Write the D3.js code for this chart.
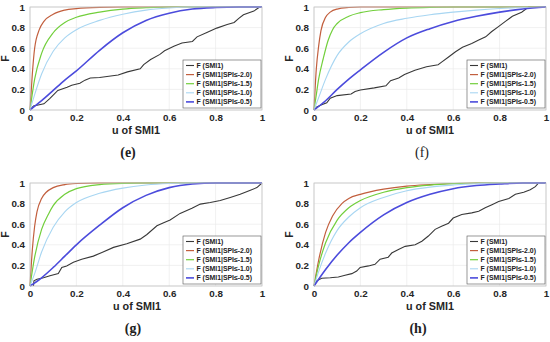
<!DOCTYPE html>
<html>
<head>
<meta charset="utf-8">
<script src="https://cdn.jsdelivr.net/npm/d3@7/dist/d3.min.js"></script>
<style>
  body { margin: 0; background: #fff; }
  svg text { font-family: "Liberation Sans", Arial, sans-serif; }
</style>
</head>
<body>
<svg id="chart" width="550" height="342"></svg>
<script>
// values, [u, F]
var ticks = [0, 0.2, 0.4, 0.6, 0.8, 1];
var tickLabels = ["0", "0.2", "0.4", "0.6", "0.8", "1"];
var legendLabels = ["F (SMI1)", "F (SMI1|SPI\u2264-2.0)", "F (SMI1|SPI\u2264-1.5)", "F (SMI1|SPI\u2264-1.0)", "F (SMI1|SPI\u2264-0.5)"];
var panelNames = ["(e)", "(f)", "(g)", "(h)"];

var eEmp = [[0,0],[0.015,0.04],[0.06,0.06],[0.085,0.11],[0.12,0.19],[0.16,0.22],[0.18,0.24],[0.215,0.26],[0.237,0.29],[0.26,0.31],[0.3,0.315],[0.38,0.34],[0.42,0.37],[0.475,0.4],[0.49,0.44],[0.52,0.49],[0.56,0.54],[0.58,0.575],[0.62,0.62],[0.655,0.65],[0.7,0.665],[0.72,0.71],[0.76,0.75],[0.805,0.795],[0.85,0.83],[0.88,0.85],[0.9,0.89],[0.92,0.925],[0.965,0.96],[0.99,1],[1,1]];
var eS20 = [[0,0],[0.01,0.35],[0.02,0.6],[0.04,0.78],[0.06,0.86],[0.1,0.93],[0.15,0.97],[0.2,0.985],[0.3,0.997],[0.4,1],[1,1]];
var eS15 = [[0,0],[0.02,0.3],[0.05,0.55],[0.1,0.75],[0.15,0.85],[0.2,0.9],[0.3,0.95],[0.4,0.98],[0.5,0.993],[0.6,1],[1,1]];
var eS10 = [[0,0],[0.02,0.15],[0.05,0.35],[0.1,0.57],[0.15,0.7],[0.2,0.78],[0.3,0.87],[0.4,0.93],[0.5,0.97],[0.6,0.99],[0.7,1],[1,1]];
var eS05 = [[0,0],[0.05,0.09],[0.1,0.19],[0.15,0.29],[0.2,0.38],[0.3,0.58],[0.4,0.75],[0.5,0.87],[0.6,0.94],[0.7,0.98],[0.8,0.995],[0.9,1],[1,1]];

var fEmp = [[0,0],[0.012,0.03],[0.033,0.05],[0.055,0.07],[0.07,0.115],[0.1,0.14],[0.16,0.155],[0.177,0.18],[0.2,0.195],[0.26,0.215],[0.31,0.235],[0.33,0.285],[0.365,0.31],[0.39,0.345],[0.435,0.385],[0.485,0.42],[0.535,0.44],[0.55,0.465],[0.58,0.515],[0.61,0.565],[0.64,0.61],[0.68,0.645],[0.71,0.68],[0.74,0.71],[0.765,0.76],[0.795,0.81],[0.825,0.86],[0.855,0.91],[0.895,0.95],[0.925,1],[1,1]];
var fS20 = [[0,0],[0.01,0.4],[0.02,0.62],[0.03,0.77],[0.05,0.9],[0.07,0.95],[0.1,0.98],[0.15,0.995],[0.2,1],[1,1]];
var fS15 = [[0,0],[0.01,0.15],[0.02,0.3],[0.04,0.5],[0.06,0.67],[0.08,0.78],[0.1,0.84],[0.15,0.91],[0.2,0.945],[0.3,0.975],[0.4,0.99],[0.5,0.997],[0.6,1],[1,1]];
var fS10 = [[0,0],[0.02,0.12],[0.05,0.3],[0.1,0.53],[0.15,0.66],[0.2,0.74],[0.3,0.84],[0.4,0.89],[0.5,0.925],[0.6,0.95],[0.7,0.97],[0.8,0.985],[0.9,0.995],[1,1]];
var fS05 = [[0,0],[0.05,0.09],[0.1,0.2],[0.15,0.3],[0.2,0.39],[0.3,0.56],[0.4,0.7],[0.5,0.79],[0.6,0.86],[0.7,0.91],[0.8,0.95],[0.9,0.98],[1,1]];

var gEmp = [[0.015,0],[0.017,0.05],[0.03,0.065],[0.058,0.08],[0.086,0.1],[0.122,0.12],[0.137,0.18],[0.158,0.195],[0.187,0.23],[0.223,0.26],[0.273,0.29],[0.31,0.325],[0.36,0.375],[0.417,0.41],[0.475,0.455],[0.504,0.5],[0.547,0.585],[0.576,0.615],[0.604,0.64],[0.647,0.705],[0.698,0.755],[0.734,0.795],[0.777,0.81],[0.82,0.83],[0.863,0.86],[0.906,0.89],[0.95,0.93],[0.978,0.955],[1,1]];
var gS20 = [[0,0],[0.01,0.35],[0.02,0.58],[0.03,0.72],[0.05,0.85],[0.07,0.91],[0.1,0.955],[0.15,0.985],[0.2,0.995],[0.3,1],[1,1]];
var gS15 = [[0,0],[0.02,0.28],[0.05,0.55],[0.08,0.7],[0.1,0.78],[0.15,0.89],[0.2,0.945],[0.3,0.985],[0.4,0.997],[0.5,1],[1,1]];
var gS10 = [[0,0],[0.02,0.12],[0.05,0.33],[0.1,0.57],[0.15,0.72],[0.2,0.81],[0.3,0.9],[0.4,0.95],[0.5,0.98],[0.6,0.995],[0.7,1],[1,1]];
var gS05 = [[0,0],[0.05,0.08],[0.1,0.18],[0.15,0.29],[0.2,0.4],[0.3,0.59],[0.4,0.76],[0.5,0.88],[0.6,0.955],[0.7,0.99],[0.8,1],[1,1]];

var hEmp = [[0,0],[0.012,0.05],[0.033,0.075],[0.07,0.08],[0.105,0.087],[0.134,0.105],[0.163,0.12],[0.184,0.145],[0.199,0.18],[0.235,0.195],[0.263,0.21],[0.285,0.26],[0.32,0.28],[0.335,0.32],[0.364,0.355],[0.393,0.385],[0.436,0.4],[0.465,0.435],[0.493,0.485],[0.522,0.55],[0.55,0.58],[0.58,0.61],[0.6,0.66],[0.637,0.695],[0.68,0.71],[0.71,0.725],[0.738,0.76],[0.767,0.79],[0.796,0.82],[0.84,0.85],[0.868,0.89],[0.904,0.91],[0.932,0.935],[0.954,0.965],[0.968,1],[1,1]];
var hS20 = [[0,0],[0.02,0.25],[0.05,0.52],[0.08,0.68],[0.12,0.8],[0.15,0.85],[0.2,0.89],[0.3,0.94],[0.4,0.97],[0.5,0.985],[0.6,0.995],[0.7,1],[1,1]];
var hS15 = [[0,0],[0.02,0.2],[0.05,0.42],[0.1,0.64],[0.15,0.76],[0.2,0.83],[0.3,0.91],[0.4,0.955],[0.5,0.98],[0.6,0.993],[0.7,1],[1,1]];
var hS10 = [[0,0],[0.02,0.14],[0.05,0.32],[0.1,0.54],[0.15,0.67],[0.2,0.76],[0.3,0.86],[0.4,0.925],[0.5,0.96],[0.6,0.98],[0.7,0.993],[0.8,1],[1,1]];
var hS05 = [[0,0],[0.05,0.16],[0.1,0.3],[0.15,0.42],[0.2,0.52],[0.3,0.69],[0.4,0.81],[0.5,0.89],[0.6,0.945],[0.7,0.975],[0.8,0.99],[0.9,1],[1,1]];

var colors = ["#383838", "#c25f3e", "#72cf3c", "#a8d6f2", "#4b4bdc"];
var widths = [1.1, 1.2, 1.2, 1.1, 1.6];

var panels = [
  {name: panelNames[0], x: 30, y: 7, bold: true, labelX: 136, nameX: 128, series: [eEmp, eS20, eS15, eS10, eS05]},
  {name: panelNames[1], x: 314, y: 7, bold: false, labelX: 430, nameX: 422, series: [fEmp, fS20, fS15, fS10, fS05]},
  {name: panelNames[2], x: 30, y: 183, bold: true, labelX: 137, nameX: 133, series: [gEmp, gS20, gS15, gS10, gS05]},
  {name: panelNames[3], x: 314, y: 183, bold: true, labelX: 430, nameX: 418, series: [hEmp, hS20, hS15, hS10, hS05]}
];

var svg = d3.select("#chart");
var pw = 232, ph = 103;

panels.forEach(function(p) {
  var g = svg.append("g").attr("transform", "translate(" + p.x + "," + p.y + ")");
  var x = d3.scaleLinear().domain([0, 1]).range([0, pw]);
  var y = d3.scaleLinear().domain([0, 1]).range([ph, 0]);

  // grid
  g.append("g").selectAll("line.gx").data(ticks).enter().append("line")
    .attr("x1", function(d) { return x(d); }).attr("x2", function(d) { return x(d); })
    .attr("y1", 0).attr("y2", ph)
    .attr("stroke", "#ebebeb").attr("stroke-width", 0.7);
  g.append("g").selectAll("line.gy").data(ticks).enter().append("line")
    .attr("y1", function(d) { return y(d); }).attr("y2", function(d) { return y(d); })
    .attr("x1", 0).attr("x2", pw)
    .attr("stroke", "#ebebeb").attr("stroke-width", 0.7);

  var line = d3.line().x(function(d) { return x(d[0]); }).y(function(d) { return y(d[1]); });

  p.series.forEach(function(s, i) {
    g.append("path")
      .datum(s)
      .attr("fill", "none")
      .attr("stroke", colors[i])
      .attr("stroke-width", widths[i])
      .attr("d", line.curve(i === 0 ? d3.curveLinear : d3.curveMonotoneX));
  });

  // box
  g.append("rect").attr("width", pw).attr("height", ph)
    .attr("fill", "none").attr("stroke", "#c4c4c4").attr("stroke-width", 0.8);

  var xa = g.append("g").attr("transform", "translate(0," + ph + ")")
    .call(d3.axisBottom(x).tickValues(ticks).tickSize(0).tickPadding(4)
      .tickFormat(function(d, i) { return tickLabels[i]; }));
  var ya = g.append("g")
    .call(d3.axisLeft(y).tickValues(ticks).tickSize(0).tickPadding(5)
      .tickFormat(function(d, i) { return tickLabels[i]; }));
  [xa, ya].forEach(function(a) {
    a.select(".domain").remove();
    a.selectAll("text").attr("font-size", "9.8px").attr("font-weight", "bold").attr("fill", "#262626");
  });

  g.append("text").attr("transform", "translate(" + (-21) + "," + (ph / 2) + ") rotate(-90)")
    .attr("text-anchor", "middle").attr("font-size", "10.5px").attr("font-weight", "bold")
    .attr("fill", "#262626").text("F");

  svg.append("text").attr("x", p.labelX).attr("y", p.y + ph + 23.5)
    .attr("text-anchor", "middle").attr("font-size", "10.8px").attr("font-weight", "bold")
    .attr("fill", "#262626").text("u of SMI1");

  svg.append("text").attr("x", p.nameX).attr("y", p.y + ph + 47)
    .attr("text-anchor", "middle")
    .style("font-family", "'Liberation Serif', 'Times New Roman', serif")
    .attr("font-size", "14px").attr("font-weight", p.bold ? "bold" : "normal")
    .attr("fill", "#222").text(p.name);

  // legend
  var lw = 78, lh = 48;
  var lg = g.append("g").attr("transform", "translate(" + (pw - lw - 1) + "," + (ph - lh - 2) + ")");
  lg.append("rect").attr("width", lw).attr("height", lh)
    .attr("fill", "#fff").attr("stroke", "#555").attr("stroke-width", 0.6);
  var item = lg.selectAll("g.item").data(legendLabels).enter().append("g")
    .attr("transform", function(d, i) { return "translate(0," + (5.5 + i * 9.1) + ")"; });
  item.append("line").attr("x1", 3).attr("x2", 11).attr("y1", 0).attr("y2", 0)
    .attr("stroke", function(d, i) { return colors[i]; })
    .attr("stroke-width", function(d, i) { return widths[i]; });
  item.append("text").attr("x", 13.5).attr("dy", "0.35em")
    .attr("font-size", "6.9px").attr("font-weight", "bold").attr("fill", "#222")
    .text(function(d) { return d; });
});
</script>
</body>
</html>
